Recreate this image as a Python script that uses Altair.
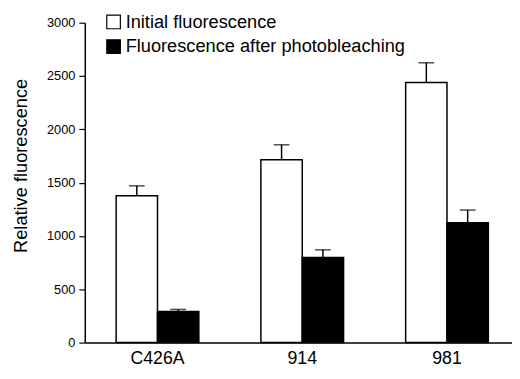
import altair as alt
import pandas as pd

categories = ["C426A", "914", "981"]
series = ["Initial fluorescence", "Fluorescence after photobleaching"]
initial = [1378, 1714, 2440]
initial_err = [92, 141, 184]
bleached = [292, 797, 1123]
bleached_err = [19, 73, 120]

rows = []
for c, v, e in zip(categories, initial, initial_err):
    rows.append({"cat": c, "series": series[0], "value": v, "upper": v + e})
for c, v, e in zip(categories, bleached, bleached_err):
    rows.append({"cat": c, "series": series[1], "value": v, "upper": v + e})
df = pd.DataFrame(rows)

FONT = "Liberation Sans"

x_enc = alt.X("cat:N", sort=categories, title=None,
              scale=alt.Scale(paddingInner=0.4286, paddingOuter=0.19, align=0.57),
              axis=alt.Axis(labelAngle=0, ticks=False, labelFontSize=18, labelPadding=7,
                            labelColor="black", labelFont=FONT, domainColor="black",
                            domainWidth=1.5))
xoff = alt.XOffset("series:N", sort=series,
                   scale=alt.Scale(paddingInner=0, paddingOuter=0))
y_scale = alt.Scale(domain=[0, 3000], nice=False)

bars = alt.Chart(df).mark_bar(stroke="black", strokeWidth=1.5).encode(
    x=x_enc,
    xOffset=xoff,
    y=alt.Y("value:Q", scale=y_scale, title="Relative fluorescence",
            axis=alt.Axis(values=[0, 500, 1000, 1500, 2000, 2500, 3000], grid=False,
                          format="d",
                          tickSize=6, tickColor="black", tickWidth=1.2,
                          domainColor="black", domainWidth=1.5,
                          labelFontSize=13, labelColor="black", labelFont=FONT,
                          labelPadding=4,
                          titleFontSize=18.5, titleFont=FONT, titleFontWeight="normal",
                          titleColor="black", titleX=-65, titleY=145,
                          titleBaseline="middle", titleAlign="center")),
    color=alt.Color("series:N", sort=series,
                    scale=alt.Scale(domain=series, range=["white", "black"]),
                    legend=alt.Legend(title=None, orient="none", legendX=20, legendY=-10,
                                      symbolType="square", symbolSize=190,
                                      symbolStrokeColor="black", symbolStrokeWidth=1.2,
                                      labelFontSize=18.5, labelFont=FONT, labelColor="black",
                                      labelLimit=0,
                                      labelOffset=3, rowPadding=5)),
)

err = alt.Chart(df).mark_rule(color="black", strokeWidth=1.5).encode(
    x=alt.X("cat:N", sort=categories),
    xOffset=xoff,
    y=alt.Y("value:Q", scale=y_scale),
    y2="upper:Q",
)

caps = alt.Chart(df).mark_tick(color="black", thickness=1.5, size=16, orient="horizontal").encode(
    x=alt.X("cat:N", sort=categories),
    xOffset=xoff,
    y=alt.Y("upper:Q", scale=y_scale),
)

chart = alt.layer(bars, err, caps).properties(
    width=434, height=325,
    autosize=alt.AutoSizeParams(type="none"),
    padding={"left": 78, "top": 12, "right": 0, "bottom": 30},
).configure_view(stroke=None).configure_axis(grid=False)

chart.save("out.html", embed_options={"renderer": "svg", "actions": False})
